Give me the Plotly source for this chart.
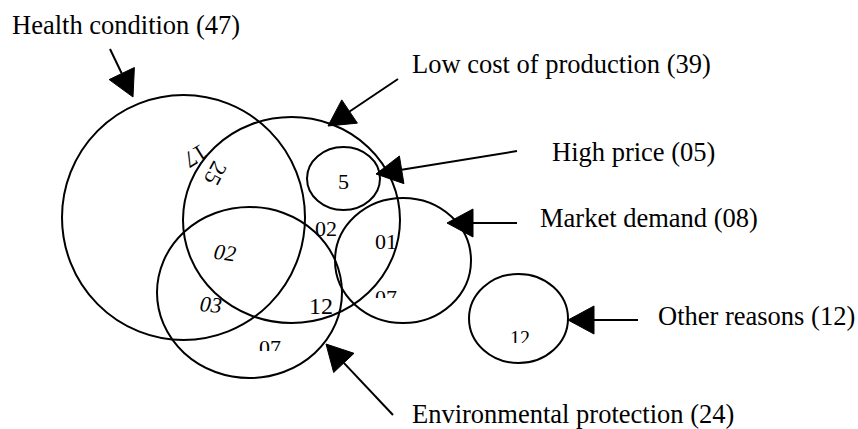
import math
import plotly.graph_objects as go

# ---- data ----
categories = ["Health condition", "Low cost of production", "High price",
              "Market demand", "Other reasons", "Environmental protection"]
counts = ["47", "39", "05", "08", "12", "24"]
region_values = ["17", "25", "5", "02", "01", "07", "02", "03", "12", "07", "12"]

# ---- layout geometry (page pixels, y downward) ----
circle_boxes = [  # x0, y0, x1, y1 per category
    (62, 95, 305, 340),
    (183, 117, 400, 323),
    (307, 147, 380, 210),
    (335, 198, 471, 323),
    (469, 274, 568, 363),
    (157, 207, 342, 378),
]
arrow_tails = [(110, 49), (398, 79), (517, 151), (517, 223), (638, 320), (393, 415)]
arrow_tips = [(133, 97), (328, 126), (376, 174), (447, 223), (568, 320), (326, 344)]
label_pos = [(10, 25), (410, 64), (550, 152), (538, 218), (656, 316), (410, 414)]

# region label positions: x, y, angle, size, italic, clip_height
region_pos = [
    (196, 156, 148, 23, False, None),
    (216, 173, 118, 23, False, None),
    (343, 181, 0, 22, False, None),
    (326, 228, 0, 22, False, None),
    (386, 241, 0, 22, False, None),
    (386, 283, 0, 22, False, 13),
    (225, 252, 8, 22, True, None),
    (211, 304, 5, 22, True, None),
    (321, 306, 0, 24, False, None),
    (270, 333, 0, 22, False, 16),
    (520, 325, 0, 20, False, 16),
]

FONT = "Liberation Serif, Times New Roman, serif"
W, H = 858, 429

fig = go.Figure()
fig.add_trace(go.Scatter(x=[0, W], y=[0, H], mode="markers",
                         marker=dict(opacity=0), hoverinfo="skip", showlegend=False))

shapes = []
for (x0, y0, x1, y1) in circle_boxes:
    shapes.append(dict(type="circle", xref="x", yref="y", x0=x0, y0=y0, x1=x1, y1=y1,
                       line=dict(color="black", width=2), layer="above"))

HEAD_L, HEAD_W = 26, 28
for (sx, sy), (tx, ty) in zip(arrow_tails, arrow_tips):
    dx, dy = tx - sx, ty - sy
    d = math.hypot(dx, dy)
    ux, uy = dx / d, dy / d
    nx, ny = -uy, ux
    bx, by = tx - HEAD_L * ux, ty - HEAD_L * uy
    shapes.append(dict(type="line", xref="x", yref="y", x0=sx, y0=sy, x1=bx, y1=by,
                       line=dict(color="black", width=2), layer="above"))
    p1 = (bx + HEAD_W / 2 * nx, by + HEAD_W / 2 * ny)
    p2 = (bx - HEAD_W / 2 * nx, by - HEAD_W / 2 * ny)
    path = f"M {tx},{ty} L {p1[0]:.2f},{p1[1]:.2f} L {p2[0]:.2f},{p2[1]:.2f} Z"
    shapes.append(dict(type="path", xref="x", yref="y", path=path,
                       fillcolor="black", line=dict(color="black", width=1), layer="above"))

annotations = []
for name, c, (lx, ly) in zip(categories, counts, label_pos):
    annotations.append(dict(x=lx, y=ly, xref="x", yref="y", text=f"{name} ({c})",
                            showarrow=False, xanchor="left", yanchor="middle",
                            font=dict(family=FONT, size=26.5, color="black")))

for val, (x, y, ang, size, ital, clip) in zip(region_values, region_pos):
    txt = f"<i>{val}</i>" if ital else val
    a = dict(x=x, y=y, xref="x", yref="y", text=txt, showarrow=False,
             xanchor="center", yanchor="middle", textangle=ang,
             font=dict(family=FONT, size=size, color="black"))
    if clip is not None:
        a.update(height=clip, valign="top", yanchor="top")
    annotations.append(a)

fig.update_layout(
    width=W, height=H, margin=dict(l=0, r=0, t=0, b=0),
    paper_bgcolor="white", plot_bgcolor="white",
    xaxis=dict(range=[0, W], visible=False, fixedrange=True),
    yaxis=dict(range=[H, 0], visible=False, fixedrange=True),
    shapes=shapes, annotations=annotations, showlegend=False,
)
fig.write_html(
    "out.html",
    config={"displayModeBar": False},
    post_script="document.body.style.margin='0';document.body.style.overflow='hidden';",
)
